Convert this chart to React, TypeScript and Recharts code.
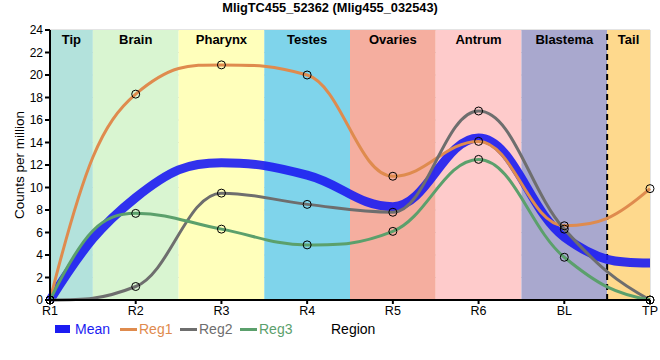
import {
  CartesianGrid,
  Line,
  LineChart,
  ReferenceArea,
  ReferenceLine,
  XAxis,
  YAxis,
} from "recharts";

const regions = ["R1", "R2", "R3", "R4", "R5", "R6", "BL", "TP"];

const meanValues = [0, 9.1, 12.2, 11.1, 8.3, 14.4, 5.6, 3.3];
const reg1Values = [0, 18.3, 20.9, 20.0, 11.0, 14.1, 6.6, 9.9];
const reg2Values = [0, 1.2, 9.5, 8.5, 7.8, 16.8, 6.3, 0];
const reg3Values = [0, 7.7, 6.3, 4.9, 6.1, 12.5, 3.8, 0];

// body regions behind the curves (x in region index units)
const bandNames = ["Tip", "Brain", "Pharynx", "Testes", "Ovaries", "Antrum", "Blastema", "Tail"];
const bandStart = [0, 0.5, 1.5, 2.5, 3.5, 4.5, 5.5, 6.5];
const bandEnd = [0.5, 1.5, 2.5, 3.5, 4.5, 5.5, 6.5, 7];
const bandColors = [
  "#b3e2dc",
  "#d9f5d1",
  "#ffffbb",
  "#7fd4eb",
  "#f5ae9f",
  "#fecbcb",
  "#a9a8ce",
  "#fed98d",
];

const yTicks = [0, 2, 4, 6, 8, 10, 12, 14, 16, 18, 20, 22, 24];

const series = [
  { key: "mean", name: "Mean", color: "#1c1cf2", width: 9, legendLeft: 55 },
  { key: "reg1", name: "Reg1", color: "#df8b4e", width: 3, legendLeft: 120 },
  { key: "reg2", name: "Reg2", color: "#6e6e6e", width: 3, legendLeft: 180 },
  { key: "reg3", name: "Reg3", color: "#5ba06c", width: 3, legendLeft: 240 },
];

const data = regions.map((r, i) => ({
  x: i,
  region: r,
  mean: meanValues[i],
  reg1: reg1Values[i],
  reg2: reg2Values[i],
  reg3: reg3Values[i],
}));

const FONT = "'Liberation Sans', Arial, sans-serif";

// spline with control points 40% of the way to the neighbours,
// flattened at local extremes so it never overshoots
function smoothSpline(context: any) {
  let pts: number[][] = [];
  const smoothing = 1.5;
  const denom = smoothing + 1;
  return {
    areaStart() {},
    areaEnd() {},
    lineStart() {
      pts = [];
    },
    point(x: number, y: number) {
      pts.push([+x, +y]);
    },
    lineEnd() {
      const n = pts.length;
      if (!n) return;
      if (n < 3) {
        context.moveTo(pts[0][0], pts[0][1]);
        for (let i = 1; i < n; i++) context.lineTo(pts[i][0], pts[i][1]);
        return;
      }
      const left: number[][] = [];
      const right: number[][] = [];
      for (let i = 1; i < n - 1; i++) {
        const [px, py] = pts[i];
        const [lx, ly] = pts[i - 1];
        const [nx, ny] = pts[i + 1];
        const lcx = (smoothing * px + lx) / denom;
        let lcy = (smoothing * py + ly) / denom;
        const rcx = (smoothing * px + nx) / denom;
        let rcy = (smoothing * py + ny) / denom;
        let corr = 0;
        if (rcx !== lcx) {
          corr = ((rcy - lcy) * (rcx - px)) / (rcx - lcx) + py - rcy;
        }
        lcy += corr;
        rcy += corr;
        if (lcy > ly && lcy > py) {
          lcy = Math.max(ly, py);
          rcy = 2 * py - lcy;
        } else if (lcy < ly && lcy < py) {
          lcy = Math.min(ly, py);
          rcy = 2 * py - lcy;
        }
        if (rcy > ny && rcy > py) {
          rcy = Math.max(ny, py);
          lcy = 2 * py - rcy;
        } else if (rcy < ny && rcy < py) {
          rcy = Math.min(ny, py);
          lcy = 2 * py - rcy;
        }
        left[i] = [lcx, lcy];
        right[i] = [rcx, rcy];
      }
      // end points: steer the tangent from the neighbour's slope
      const endCtrl = (a: number[], b: number[], bc: number[]) => {
        const dx = b[0] - a[0];
        const s = (b[1] - a[1]) / dx;
        const mb = (b[1] - bc[1]) / (b[0] - bc[0]);
        let m = 2 * s - mb;
        if (m * s <= 0) m = 0;
        if (Math.abs(m) > 3 * Math.abs(s)) m = 3 * s;
        const cx = a[0] + 0.4 * dx;
        return [cx, a[1] + m * 0.4 * dx];
      };
      right[0] = endCtrl(pts[0], pts[1], left[1]);
      left[n - 1] = endCtrl(pts[n - 1], pts[n - 2], right[n - 2]);

      context.moveTo(pts[0][0], pts[0][1]);
      for (let i = 1; i < n; i++) {
        const c1 = right[i - 1];
        const c2 = left[i];
        context.bezierCurveTo(c1[0], c1[1], c2[0], c2[1], pts[i][0], pts[i][1]);
      }
    },
  };
}

const HollowDot = (props: any) => {
  const { cx, cy } = props;
  if (cx == null || cy == null) return null;
  return <circle cx={cx} cy={cy} r={4} fill="none" stroke="#000" strokeWidth={1} />;
};

export default function App() {
  return (
    <div
      style={{
        position: "absolute",
        left: 0,
        top: 0,
        width: 660,
        height: 360,
        background: "#fff",
        fontFamily: FONT,
      }}
    >
      <div
        style={{
          position: "absolute",
          top: 0,
          left: 0,
          width: 660,
          textAlign: "center",
          fontWeight: "bold",
          fontSize: 12.8,
        }}
      >
        MligTC455_52362 (Mlig455_032543)
      </div>
      <LineChart
        width={660}
        height={360}
        data={data}
        margin={{ top: 30, right: 10, left: 0, bottom: 40 }}
      >
        {bandNames.map((name, i) => (
          <ReferenceArea
            key={name}
            x1={bandStart[i]}
            x2={bandEnd[i]}
            y1={0}
            y2={24}
            fill={bandColors[i]}
            fillOpacity={1}
            stroke="none"
            ifOverflow="hidden"
            label={{
              value: name,
              position: "insideTop",
              fill: "#000",
              fontWeight: "bold",
              fontSize: 13,
              fontFamily: FONT,
              offset: 5,
            }}
          />
        ))}
        <CartesianGrid stroke="#c8c8c8" strokeWidth={1} />
        <XAxis
          dataKey="x"
          type="number"
          domain={[0, 7]}
          ticks={data.map((d) => d.x)}
          tickFormatter={(v: number) => regions[v]}
          stroke="#000"
          strokeWidth={2}
          tickSize={4}
          tick={{ fill: "#000", fontSize: 12.5, fontFamily: FONT }}
          height={20}
        />
        <XAxis
          xAxisId="top"
          orientation="top"
          dataKey="x"
          type="number"
          domain={[0, 7]}
          tick={false}
          tickLine={false}
          stroke="#000"
          height={0}
        />
        <YAxis
          domain={[0, 24]}
          ticks={yTicks}
          interval={0}
          stroke="#000"
          strokeWidth={2}
          tickSize={5}
          width={50}
          tick={{ fill: "#000", fontSize: 12, fontFamily: FONT }}
          label={{
            value: "Counts per million",
            angle: -90,
            position: "insideLeft",
            offset: 19,
            style: { textAnchor: "middle", fill: "#000", fontSize: 13.5, fontFamily: FONT },
          }}
        />
        <YAxis
          yAxisId="right"
          orientation="right"
          domain={[0, 24]}
          tick={false}
          tickLine={false}
          stroke="#000"
          width={0}
        />
        <ReferenceLine x={6.5} stroke="#000" strokeWidth={2} strokeDasharray="6 4" />
        {series.map((s) => (
          <Line
            key={s.key}
            dataKey={s.key}
            name={s.name}
            type={smoothSpline as any}
            stroke={s.color}
            strokeWidth={s.width}
            strokeOpacity={s.key === "mean" ? 0.9 : 1}
            dot={s.key === "mean" ? false : <HollowDot />}
            activeDot={false}
            isAnimationActive={false}
          />
        ))}
      </LineChart>

      {/* legend + axis title row */}
      {series.map((s) => (
        <div
          key={s.key}
          style={{
            position: "absolute",
            top: 321,
            left: s.legendLeft,
            display: "flex",
            alignItems: "center",
            fontSize: 14,
          }}
        >
          <div
            style={{
              width: s.key === "mean" ? 15 : 17,
              height: s.key === "mean" ? 8 : 3,
              background: s.color,
              marginRight: s.key === "mean" ? 5 : 2,
            }}
          />
          <span style={{ color: s.color }}>{s.name}</span>
        </div>
      ))}
      <div style={{ position: "absolute", top: 321, left: 331, fontSize: 14, color: "#000" }}>
        Region
      </div>
    </div>
  );
}
